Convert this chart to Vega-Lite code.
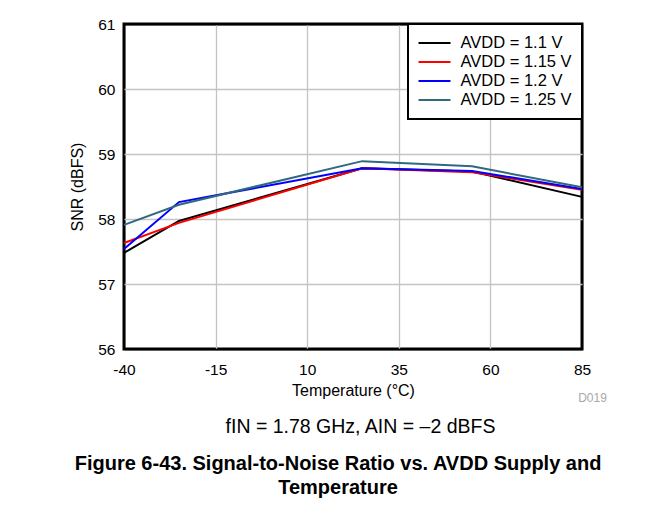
{
  "$schema": "https://vega.github.io/schema/vega-lite/v6.json",
  "width": 458,
  "height": 325,
  "autosize": {"type": "none"},
  "padding": {"left": 124, "top": 24, "right": 80, "bottom": 159},
  "background": "white",
  "config": {
    "font": "Liberation Sans",
    "view": {"stroke": "black", "strokeWidth": 3},
    "axis": {"labelColor": "black", "titleColor": "black", "titleFontWeight": "normal", "labelFontSize": 15.5, "titleFontSize": 16},
    "legend": {"strokeWidth": 2}
  },
  "title": {
    "text": ["Figure 6-43. Signal-to-Noise Ratio vs. AVDD Supply and", "Temperature"],
    "orient": "bottom",
    "anchor": "middle",
    "frame": "bounds",
    "fontSize": 20,
    "fontWeight": "bold",
    "color": "black",
    "lineHeight": 24,
    "offset": 18
  },
  "data": {
    "values": [
      {"temp": -40, "avdd": "AVDD = 1.1 V", "snr": 57.48},
      {"temp": -25, "avdd": "AVDD = 1.1 V", "snr": 57.97},
      {"temp": 25, "avdd": "AVDD = 1.1 V", "snr": 58.78},
      {"temp": 55, "avdd": "AVDD = 1.1 V", "snr": 58.73},
      {"temp": 85, "avdd": "AVDD = 1.1 V", "snr": 58.34},
      {"temp": -40, "avdd": "AVDD = 1.15 V", "snr": 57.63},
      {"temp": -25, "avdd": "AVDD = 1.15 V", "snr": 57.94},
      {"temp": 25, "avdd": "AVDD = 1.15 V", "snr": 58.78},
      {"temp": 55, "avdd": "AVDD = 1.15 V", "snr": 58.72},
      {"temp": 85, "avdd": "AVDD = 1.15 V", "snr": 58.45},
      {"temp": -40, "avdd": "AVDD = 1.2 V", "snr": 57.54},
      {"temp": -25, "avdd": "AVDD = 1.2 V", "snr": 58.26},
      {"temp": 25, "avdd": "AVDD = 1.2 V", "snr": 58.78},
      {"temp": 55, "avdd": "AVDD = 1.2 V", "snr": 58.74},
      {"temp": 85, "avdd": "AVDD = 1.2 V", "snr": 58.46},
      {"temp": -40, "avdd": "AVDD = 1.25 V", "snr": 57.91},
      {"temp": -25, "avdd": "AVDD = 1.25 V", "snr": 58.22},
      {"temp": 25, "avdd": "AVDD = 1.25 V", "snr": 58.89},
      {"temp": 55, "avdd": "AVDD = 1.25 V", "snr": 58.81},
      {"temp": 85, "avdd": "AVDD = 1.25 V", "snr": 58.49}
    ]
  },
  "layer": [
    {
      "mark": {"type": "line", "strokeWidth": 2},
      "encoding": {
        "x": {
          "field": "temp", "type": "quantitative",
          "scale": {"domain": [-40, 85], "nice": false, "zero": false},
          "axis": {
            "orient": "bottom",
            "values": [-40, -15, 10, 35, 60, 85],
            "labelExpr": "'' + datum.value",
            "title": "Temperature (°C)",
            "ticks": false, "tickSize": 0, "domain": false,
            "labelFlush": false, "labelPadding": 13,
            "grid": true,
            "gridColor": {"condition": {"test": "datum.value === -40 || datum.value === 85", "value": "black"}, "value": "#c4c4c4"},
            "gridWidth": 1.3,
            "titleY": 46, "titleBaseline": "alphabetic"
          }
        },
        "y": {
          "field": "snr", "type": "quantitative",
          "scale": {"domain": [56, 61], "nice": false, "zero": false},
          "axis": {
            "values": [56, 57, 58, 59, 60, 61],
            "title": "SNR (dBFS)",
            "ticks": false, "tickSize": 0, "domain": false,
            "labelFlush": false, "labelPadding": 9, "titlePadding": 12,
            "grid": true,
            "gridColor": {"condition": {"test": "datum.value === 56 || datum.value === 61", "value": "black"}, "value": "#c4c4c4"},
            "gridWidth": 1.3
          }
        },
        "color": {
          "field": "avdd", "type": "nominal",
          "scale": {
            "domain": ["AVDD = 1.1 V", "AVDD = 1.15 V", "AVDD = 1.2 V", "AVDD = 1.25 V"],
            "range": ["#000000", "#ff0000", "#0000ff", "#30687d"]
          },
          "legend": {
            "title": null,
            "orient": "top-right",
            "offset": 0,
            "strokeColor": "black",
            "fillColor": "white",
            "padding": 9.5,
            "rowPadding": 0,
            "clipHeight": 19,
            "symbolType": "stroke",
            "symbolSize": 1024,
            "symbolStrokeWidth": 2,
            "labelFontSize": 16.5,
            "labelColor": "black",
            "labelOffset": 9,
            "labelLimit": 300
          }
        }
      }
    },
    {
      "mark": {"type": "point", "opacity": 0},
      "encoding": {
        "x": {
          "field": "temp", "type": "quantitative",
          "axis": {
            "orient": "bottom", "title": "D019", "labels": false, "ticks": false, "domain": false, "grid": false,
            "titleFontSize": 12, "titleColor": "#a8a8a8", "titleX": 468, "titleY": 48,
            "titleAlign": "center", "titleBaseline": "middle"
          }
        }
      }
    },
    {
      "mark": {"type": "point", "opacity": 0},
      "encoding": {
        "x": {
          "field": "temp", "type": "quantitative",
          "axis": {
            "orient": "bottom", "title": "fIN = 1.78 GHz, AIN = –2 dBFS", "labels": false, "ticks": false, "domain": false, "grid": false,
            "titleFontSize": 19.5, "titleColor": "black", "titleX": 236, "titleY": 83,
            "titleAlign": "center", "titleBaseline": "alphabetic"
          }
        }
      }
    }
  ],
  "resolve": {"axis": {"x": "independent"}}
}
